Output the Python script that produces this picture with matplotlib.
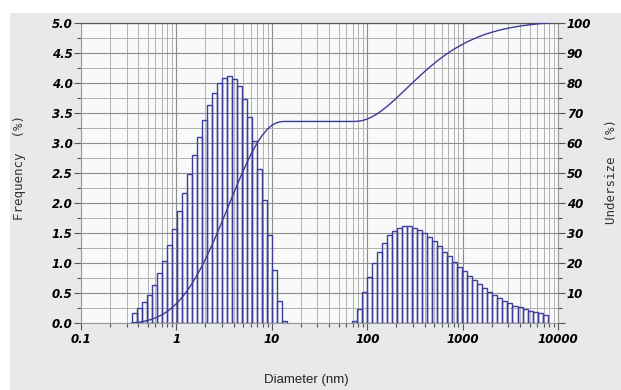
import numpy as np
import matplotlib
matplotlib.use('Agg')
import matplotlib.pyplot as plt
from matplotlib.patches import Rectangle
from matplotlib.ticker import MultipleLocator, FixedLocator, FuncFormatter, NullFormatter

# size classes (geometric), lower edge of first class in nm and log10 step
class_start = 0.339
class_step = 0.0525
coarse_first_class = 44

# frequency (%) per class, fine population (0.34 - 14 nm)
fine_freq = [0.17, 0.25, 0.35, 0.47, 0.63, 0.83, 1.04, 1.30, 1.56, 1.86,
             2.17, 2.49, 2.80, 3.10, 3.38, 3.63, 3.84, 4.00, 4.09, 4.12,
             4.07, 3.95, 3.73, 3.43, 3.04, 2.57, 2.05, 1.47, 0.88, 0.37, 0.03]
# frequency (%) per class, coarse population (70 - 7700 nm)
coarse_freq = [0.04, 0.24, 0.51, 0.77, 1.00, 1.19, 1.34, 1.46, 1.54, 1.59,
               1.61, 1.61, 1.59, 1.55, 1.50, 1.43, 1.36, 1.28, 1.19, 1.11,
               1.02, 0.94, 0.87, 0.79, 0.72, 0.65, 0.59, 0.52, 0.47, 0.41,
               0.37, 0.33, 0.29, 0.26, 0.23, 0.20, 0.18, 0.16, 0.14]

x_ticks = [0.1, 1, 10, 100, 1000, 10000]
x_ticklabels = ['0.1', '1', '10', '100', '1000', '10000']

bar_col = '#3d3d9e'
tick_font = dict(family='DejaVu Sans', weight='bold', style='oblique', size=8.5)

n_classes = coarse_first_class + len(coarse_freq)
edges = class_start * 10 ** (class_step * np.arange(n_classes + 1))
freq = np.zeros(n_classes)
freq[:len(fine_freq)] = fine_freq
freq[coarse_first_class:] = coarse_freq
# cumulative undersize, normalised to 100 %
undersize = np.concatenate([[0.0], np.cumsum(freq)])
undersize = undersize / undersize[-1] * 100

fig = plt.figure(figsize=(6.21, 3.90), dpi=100, facecolor='white')
fig.add_artist(Rectangle((10 / 621, 0), 1, 377 / 390, transform=fig.transFigure,
                         facecolor='#e9e9eb', edgecolor='none', zorder=-10))

ax = fig.add_axes([81 / 621, 67 / 390, 477.3 / 621, 300 / 390])
ax.set_facecolor('#f9f9f9')
ax.set_xscale('log')
ax.set_xlim(0.1, 10000)
ax.set_ylim(0, 5.0)

for f, lo, hi in zip(freq, edges[:-1], edges[1:]):
    if f > 0:
        ax.bar(lo, f, width=hi - lo, align='edge', facecolor='none',
               edgecolor=bar_col, linewidth=1.0, zorder=3)

ax.xaxis.set_major_locator(FixedLocator(x_ticks))
ax.xaxis.set_major_formatter(FuncFormatter(lambda v, p: x_ticklabels[x_ticks.index(v)] if v in x_ticks else ''))
ax.xaxis.set_minor_locator(FixedLocator([m * 10.0 ** e for e in range(-1, 4) for m in range(2, 10)]))
ax.xaxis.set_minor_formatter(NullFormatter())
ax.yaxis.set_major_locator(MultipleLocator(0.5))
ax.yaxis.set_minor_locator(MultipleLocator(0.25))
ax.yaxis.set_major_formatter(FuncFormatter(lambda v, p: f'{v:.1f}'))

ax.grid(True, which='major', color='#8c8c8c', linewidth=0.8, zorder=0)
ax.grid(True, which='minor', color='#b0b0b0', linewidth=0.7, zorder=0)
ax.set_axisbelow(True)

ax.tick_params(which='both', direction='out', color='#555555', pad=1)
ax.tick_params(which='major', length=5, width=0.8)
ax.tick_params(which='minor', length=3, width=0.8)
for lab in ax.get_xticklabels() + ax.get_yticklabels():
    lab.set(**tick_font)
ax.tick_params(axis='x', pad=2)

for side in ['left', 'bottom', 'right']:
    ax.spines[side].set_color('#9a9a9a')
    ax.spines[side].set_linewidth(0.8)
ax.spines['top'].set_color('#555555')
ax.spines['top'].set_linewidth(0.9)

ax2 = ax.twinx()
ax2.set_ylim(0, 100)
ax2.plot(edges, undersize, color='#3b3b98', linewidth=1.0, zorder=4)
ax2.yaxis.set_major_locator(MultipleLocator(10))
ax2.yaxis.set_minor_locator(MultipleLocator(5))
ax2.yaxis.set_major_formatter(FuncFormatter(lambda v, p: '' if v == 0 else f'{v:.0f}'))
ax2.tick_params(which='both', direction='out', color='#555555', pad=1)
ax2.tick_params(which='major', length=5, width=0.8)
ax2.tick_params(which='minor', length=3, width=0.8)
for lab in ax2.get_yticklabels():
    lab.set(**tick_font)
for s in ax2.spines.values():
    s.set_visible(False)

fig.text(20 / 621, 1 - 168 / 390, 'Frequency  (%)', rotation=90, ha='center', va='center',
         family='DejaVu Sans Mono', fontsize=9, color='#333333')
fig.text(611 / 621, 1 - 171 / 390, 'Undersize  (%)', rotation=90, ha='center', va='center',
         family='DejaVu Sans Mono', fontsize=9, color='#333333')
fig.text(306 / 621, 1 - 380 / 390, 'Diameter (nm)', ha='center', va='center',
         family='Liberation Sans', fontsize=9.5, color='#222222')

fig.savefig('out.png', dpi=100)
